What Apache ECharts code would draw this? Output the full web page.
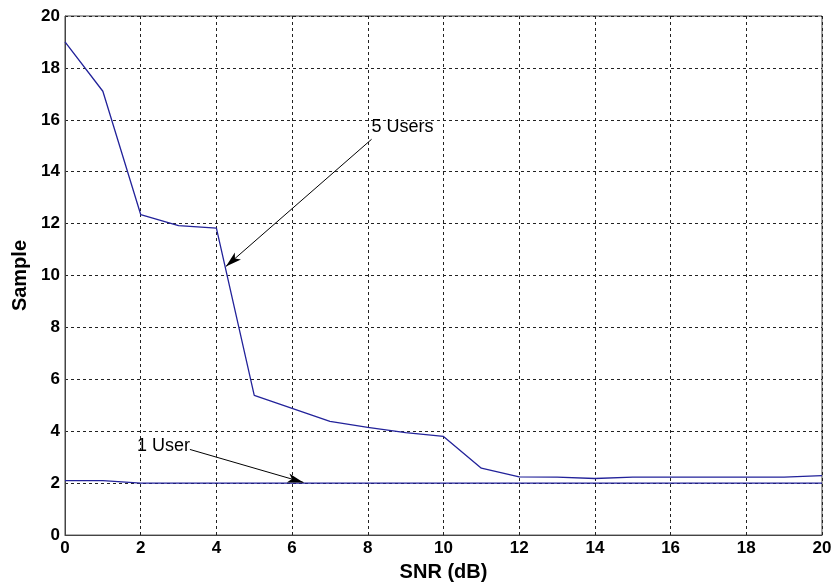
<!DOCTYPE html>
<html>
<head>
<meta charset="utf-8">
<script src="https://cdn.jsdelivr.net/npm/echarts@6/dist/echarts.min.js"></script>
<style>
  html, body { margin: 0; padding: 0; background: #fff; }
  #chart { width: 835px; height: 587px; }
</style>
</head>
<body>
<div id="chart"></div>
<script>
// SNR values in dB
const snr = [0, 1, 2, 3, 4, 5, 6, 7, 8, 9, 10, 11, 12, 13, 14, 15, 16, 17, 18, 19, 20];
// Required samples for 5 users
const users5 = [19.0, 17.1, 12.35, 11.92, 11.83, 5.38, 4.88, 4.38, 4.15, 3.95, 3.8, 2.58, 2.24, 2.23, 2.18, 2.23, 2.23, 2.23, 2.23, 2.23, 2.29];
// Required samples for 1 user
const users1 = [2.1, 2.1, 2.0, 2.0, 2.0, 2.0, 2.0, 2.0, 2.0, 2.0, 2.0, 2.0, 2.0, 2.0, 2.0, 2.0, 2.0, 2.0, 2.0, 2.0, 2.0];
// Annotation arrows: label, text anchor point, arrow tip
const notes5 = { text: '5 Users', from: [8.1, 15.25], to: [4.25, 10.35] };
const notes1 = { text: '1 User', from: [3.3, 3.3], to: [6.3, 2.03] };

const lineColor = '#22229a';
const font = 'Arial, "Liberation Sans", sans-serif';

const chart = echarts.init(document.getElementById('chart'));

function arrowLine(n) {
  return {
    silent: true,
    symbol: ['none', 'arrow'],
    symbolSize: [7, 16],
    label: { show: false },
    lineStyle: { color: '#000', width: 1, type: 'solid' },
    data: [[{ coord: n.from }, { coord: n.to }]]
  };
}

chart.setOption({
  animation: false,
  grid: { left: 65, right: 13, top: 16, bottom: 50, show: true, borderColor: '#444', borderWidth: 1 },
  xAxis: {
    type: 'value', min: 0, max: 20, interval: 2,
    name: 'SNR (dB)', nameLocation: 'middle', nameGap: 23,
    nameTextStyle: { fontFamily: font, fontWeight: 'bold', fontSize: 20, color: '#000' },
    axisLine: { show: true, lineStyle: { color: '#444' } },
    axisTick: { show: false },
    axisLabel: { fontFamily: font, fontWeight: 'bold', fontSize: 17, color: '#000', margin: 5 },
    splitLine: { show: true, lineStyle: { color: '#222', type: [3, 3], width: 1 } }
  },
  yAxis: {
    type: 'value', min: 0, max: 20, interval: 2,
    name: 'Sample', nameLocation: 'middle', nameGap: 33,
    nameTextStyle: { fontFamily: font, fontWeight: 'bold', fontSize: 20, color: '#000' },
    axisLine: { show: true, lineStyle: { color: '#444' } },
    axisTick: { show: false },
    axisLabel: { fontFamily: font, fontWeight: 'bold', fontSize: 17, color: '#000', margin: 5 },
    splitLine: { show: true, lineStyle: { color: '#222', type: [3, 3], width: 1 } }
  },
  series: [
    {
      name: '5 Users', type: 'line', showSymbol: false, silent: true,
      data: snr.map((x, i) => [x, users5[i]]),
      lineStyle: { color: lineColor, width: 1.3 },
      markLine: arrowLine(notes5)
    },
    {
      name: '1 User', type: 'line', showSymbol: false, silent: true,
      data: snr.map((x, i) => [x, users1[i]]),
      lineStyle: { color: lineColor, width: 1.3 },
      markLine: arrowLine(notes1)
    }
  ]
});

// Text labels placed at the start of each annotation arrow
function placeLabels() {
  const p5 = chart.convertToPixel({ gridIndex: 0 }, notes5.from);
  const p1 = chart.convertToPixel({ gridIndex: 0 }, notes1.from);
  chart.setOption({
    graphic: [
      { type: 'text', x: p5[0], y: p5[1] - 3, style: { text: notes5.text, font: '18px ' + font, fill: '#000', textAlign: 'left', textVerticalAlign: 'bottom' } },
      { type: 'text', x: p1[0], y: p1[1] - 3, style: { text: notes1.text, font: '18px ' + font, fill: '#000', textAlign: 'right', textVerticalAlign: 'middle' } }
    ]
  });
}
placeLabels();
</script>
</body>
</html>
